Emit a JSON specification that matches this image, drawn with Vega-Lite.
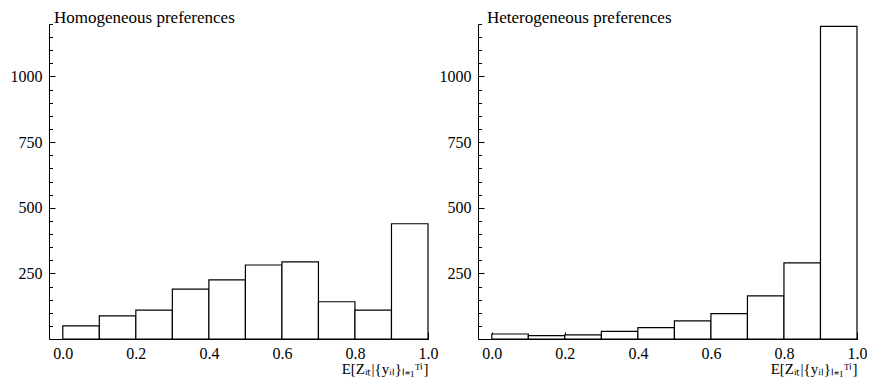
{
  "$schema": "https://vega.github.io/schema/vega-lite/v6.json",
  "padding": {"left": 10, "top": 8, "right": 0, "bottom": 0},
  "spacing": 50,
  "bounds": "flush",
  "config": {
    "view": {"stroke": null},
    "font": "Liberation Serif",
    "style": {
      "guide-label": {"font": "Liberation Serif", "fontSize": 16, "fill": "black"},
      "guide-title": {"font": "Liberation Serif", "fill": "black"}
    },
    "axis": {
      "grid": false,
      "zindex": 1,
      "domainColor": "black",
      "domainWidth": 1,
      "tickColor": "black",
      "tickWidth": 1,
      "labelColor": "black",
      "labelFont": "Liberation Serif, Times New Roman, serif",
      "labelFontSize": 16,
      "labelFlush": false,
      "labelOverlap": false,
      "titleColor": "black",
      "titleFont": "Liberation Serif",
      "titleFontWeight": "normal"
    }
  },
  "datasets": {
    "homog": [
      {"bin_start": 0.0, "bin_end": 0.1, "count": 50},
      {"bin_start": 0.1, "bin_end": 0.2, "count": 88},
      {"bin_start": 0.2, "bin_end": 0.3, "count": 110},
      {"bin_start": 0.3, "bin_end": 0.4, "count": 190},
      {"bin_start": 0.4, "bin_end": 0.5, "count": 225},
      {"bin_start": 0.5, "bin_end": 0.6, "count": 282},
      {"bin_start": 0.6, "bin_end": 0.7, "count": 294},
      {"bin_start": 0.7, "bin_end": 0.8, "count": 142},
      {"bin_start": 0.8, "bin_end": 0.9, "count": 110},
      {"bin_start": 0.9, "bin_end": 1.0, "count": 439}
    ],
    "heterog": [
      {"bin_start": 0.0, "bin_end": 0.1, "count": 19},
      {"bin_start": 0.1, "bin_end": 0.2, "count": 13},
      {"bin_start": 0.2, "bin_end": 0.3, "count": 16},
      {"bin_start": 0.3, "bin_end": 0.4, "count": 29},
      {"bin_start": 0.4, "bin_end": 0.5, "count": 43},
      {"bin_start": 0.5, "bin_end": 0.6, "count": 69},
      {"bin_start": 0.6, "bin_end": 0.7, "count": 97},
      {"bin_start": 0.7, "bin_end": 0.8, "count": 164},
      {"bin_start": 0.8, "bin_end": 0.9, "count": 290},
      {"bin_start": 0.9, "bin_end": 1.0, "count": 1191}
    ]
  },
  "hconcat": [
    {
      "width": 379,
      "height": 315,
      "title": {"text": "Homogeneous preferences", "anchor": "start", "frame": "group", "dx": 5, "offset": -16, "baseline": "alphabetic", "fontSize": 17, "fontWeight": "normal", "font": "Liberation Serif", "color": "black"},
      "data": {"name": "homog"},
      "layer": [
        {
          "mark": {"type": "rect", "fill": "white", "stroke": "black", "strokeWidth": 1.2},
          "encoding": {
            "x": {"field": "bin_start", "type": "quantitative", "scale": {"domain": [-0.0378, 1], "nice": false, "zero": false},
              "axis": {"orient": "bottom", "values": [0, 0.2, 0.4, 0.6, 0.8, 1.0], "format": ".1f", "tickSize": -7, "labelPadding": 13.7, "labelFont": "Liberation Serif, Times New Roman, serif", "labelFontSize": 16, "title": "E[Zᵢₜ|{yᵢₗ}ₗ₌₁ᵀⁱ]", "titleFont": "Liberation Serif", "titleAnchor": "end", "titleAlign": "right", "titleFontSize": 15, "titlePadding": 0}},
            "x2": {"field": "bin_end"},
            "y": {"field": "count", "type": "quantitative", "scale": {"domain": [0, 1200], "nice": false},
              "axis": {"orient": "left", "values": [250, 500, 750, 1000], "format": "d", "tickSize": -6, "labelPadding": 13, "labelFont": "Liberation Serif, Times New Roman, serif", "labelFontSize": 16, "title": null}},
            "y2": {"datum": 0}
          }
        },
        {
          "mark": {"type": "rect", "opacity": 0},
          "encoding": {
            "x": {"field": "bin_start", "type": "quantitative", "scale": {"domain": [-0.0378, 1], "nice": false, "zero": false},
              "axis": {"orient": "bottom", "values": [0, 0.04, 0.08, 0.12, 0.16, 0.2, 0.24, 0.28, 0.32, 0.36, 0.4, 0.44, 0.48, 0.52, 0.56, 0.6, 0.64, 0.68, 0.72, 0.76, 0.8, 0.84, 0.88, 0.92, 0.96, 1.0], "tickSize": -3.5, "labels": false, "domain": false, "title": null}},
            "x2": {"field": "bin_end"},
            "y": {"field": "count", "type": "quantitative", "scale": {"domain": [0, 1200], "nice": false},
              "axis": {"orient": "left", "values": [0, 50, 100, 150, 200, 250, 300, 350, 400, 450, 500, 550, 600, 650, 700, 750, 800, 850, 900, 950, 1000, 1050, 1100, 1150, 1200], "tickSize": -3.5, "labels": false, "domain": false, "title": null}},
            "y2": {"datum": 0}
          }
        }
      ],
      "resolve": {"axis": {"x": "independent", "y": "independent"}}
    },
    {
      "width": 379,
      "height": 315,
      "title": {"text": "Heterogeneous preferences", "anchor": "start", "frame": "group", "dx": 9, "offset": -16, "baseline": "alphabetic", "fontSize": 17, "fontWeight": "normal", "font": "Liberation Serif", "color": "black"},
      "data": {"name": "heterog"},
      "layer": [
        {
          "mark": {"type": "rect", "fill": "white", "stroke": "black", "strokeWidth": 1.2},
          "encoding": {
            "x": {"field": "bin_start", "type": "quantitative", "scale": {"domain": [-0.0378, 1], "nice": false, "zero": false},
              "axis": {"orient": "bottom", "values": [0, 0.2, 0.4, 0.6, 0.8, 1.0], "format": ".1f", "tickSize": -7, "labelPadding": 13.7, "labelFont": "Liberation Serif, Times New Roman, serif", "labelFontSize": 16, "title": "E[Zᵢₜ|{yᵢₗ}ₗ₌₁ᵀⁱ]", "titleFont": "Liberation Serif", "titleAnchor": "end", "titleAlign": "right", "titleFontSize": 15, "titlePadding": 0}},
            "x2": {"field": "bin_end"},
            "y": {"field": "count", "type": "quantitative", "scale": {"domain": [0, 1200], "nice": false},
              "axis": {"orient": "left", "values": [250, 500, 750, 1000], "format": "d", "tickSize": -6, "labelPadding": 13, "labelFont": "Liberation Serif, Times New Roman, serif", "labelFontSize": 16, "title": null}},
            "y2": {"datum": 0}
          }
        },
        {
          "mark": {"type": "rect", "opacity": 0},
          "encoding": {
            "x": {"field": "bin_start", "type": "quantitative", "scale": {"domain": [-0.0378, 1], "nice": false, "zero": false},
              "axis": {"orient": "bottom", "values": [0, 0.04, 0.08, 0.12, 0.16, 0.2, 0.24, 0.28, 0.32, 0.36, 0.4, 0.44, 0.48, 0.52, 0.56, 0.6, 0.64, 0.68, 0.72, 0.76, 0.8, 0.84, 0.88, 0.92, 0.96, 1.0], "tickSize": -3.5, "labels": false, "domain": false, "title": null}},
            "x2": {"field": "bin_end"},
            "y": {"field": "count", "type": "quantitative", "scale": {"domain": [0, 1200], "nice": false},
              "axis": {"orient": "left", "values": [0, 50, 100, 150, 200, 250, 300, 350, 400, 450, 500, 550, 600, 650, 700, 750, 800, 850, 900, 950, 1000, 1050, 1100, 1150, 1200], "tickSize": -3.5, "labels": false, "domain": false, "title": null}},
            "y2": {"datum": 0}
          }
        }
      ],
      "resolve": {"axis": {"x": "independent", "y": "independent"}}
    }
  ]
}
